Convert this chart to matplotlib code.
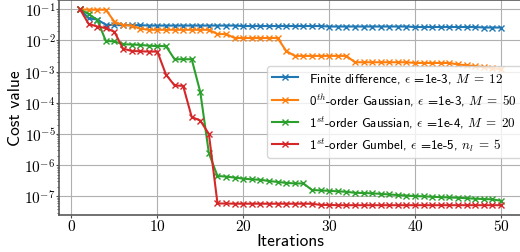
import math

import matplotlib

matplotlib.use("Agg")
import matplotlib.pyplot as plt
from matplotlib.ticker import FuncFormatter, NullFormatter

plt.rcParams["mathtext.fontset"] = "cm"
plt.rcParams["font.family"] = ["cmss10", "DejaVu Sans"]
plt.rcParams["axes.unicode_minus"] = False

iterations = list(range(1, 51))

finite_diff = [0.1, 0.051, 0.047, 0.032, 0.031, 0.031, 0.031, 0.031, 0.030, 0.030,
               0.030, 0.030, 0.030, 0.030, 0.030, 0.030, 0.030, 0.030, 0.030, 0.029,
               0.029, 0.029, 0.029, 0.029, 0.029, 0.029, 0.029, 0.029, 0.029, 0.028,
               0.028, 0.028, 0.028, 0.028, 0.028, 0.028, 0.028, 0.028, 0.028, 0.027,
               0.027, 0.027, 0.027, 0.027, 0.027, 0.027, 0.027, 0.026, 0.026, 0.026]

gauss0 = [0.1, 0.097, 0.097, 0.097, 0.040, 0.031, 0.030, 0.024, 0.022, 0.022,
          0.022, 0.022, 0.022, 0.022, 0.022, 0.022, 0.016, 0.016, 0.012, 0.012,
          0.012, 0.012, 0.012, 0.012, 0.0046, 0.0032, 0.0032, 0.0032, 0.0032, 0.0032,
          0.0032, 0.0032, 0.0020, 0.0020, 0.0020, 0.0020, 0.0020, 0.0020, 0.0020, 0.0019,
          0.0019, 0.0019, 0.0019, 0.0019, 0.0017, 0.0016, 0.0015, 0.0014, 0.0013, 0.0012]

gauss1 = [0.1, 0.07, 0.046, 0.0097, 0.0093, 0.0076, 0.0074, 0.0072, 0.0068, 0.0066,
          0.0066, 0.0025, 0.0025, 0.0025, 2.2e-4, 2.4e-6, 4.5e-7, 4.3e-7, 4.0e-7, 3.7e-7,
          3.5e-7, 3.4e-7, 3.1e-7, 2.9e-7, 2.7e-7, 2.6e-7, 2.6e-7, 1.6e-7, 1.55e-7, 1.5e-7,
          1.45e-7, 1.4e-7, 1.3e-7, 1.28e-7, 1.25e-7, 1.2e-7, 1.15e-7, 1.1e-7, 1.06e-7, 1.02e-7,
          1.0e-7, 9.7e-8, 9.4e-8, 9.2e-8, 9.0e-8, 8.7e-8, 8.4e-8, 8.2e-8, 8.0e-8, 7.2e-8]

gumbel1 = [0.1, 0.034, 0.028, 0.025, 0.019, 0.0055, 0.0046, 0.0045, 0.0044, 0.0044,
           8.1e-4, 3.6e-4, 3.5e-4, 3.5e-5, 2.7e-5, 1.0e-5, 5.9e-8, 5.9e-8, 5.8e-8, 5.8e-8,
           5.8e-8, 5.8e-8, 5.8e-8, 5.8e-8, 5.8e-8, 5.8e-8, 5.8e-8, 5.8e-8, 5.3e-8, 5.3e-8,
           5.2e-8, 5.2e-8, 5.2e-8, 5.2e-8, 5.2e-8, 5.2e-8, 5.2e-8, 5.2e-8, 5.2e-8, 5.2e-8,
           5.2e-8, 5.2e-8, 5.2e-8, 5.2e-8, 5.2e-8, 5.2e-8, 5.2e-8, 5.2e-8, 5.2e-8, 5.2e-8]

labels = [
    r"Finite difference, $\epsilon$ =1e-3, $M\;=\;12$",
    r"0$^{th}$-order Gaussian, $\epsilon$ =1e-3, $M\;=\;50$",
    r"1$^{st}$-order Gaussian, $\epsilon$ =1e-4, $M\;=\;20$",
    r"1$^{st}$-order Gumbel, $\epsilon$ =1e-5, $n_l\;=\;5$",
]
colors = ["#1f77b4", "#ff7f0e", "#2ca02c", "#d62728"]
y_ticks = [1e-7, 1e-6, 1e-5, 1e-4, 1e-3, 1e-2, 1e-1]


def log_label(value, pos):
    return r"$10^{%d}$" % round(math.log10(value))


def main():
    fig = plt.figure(figsize=(5.2, 2.53), dpi=100)
    ax = fig.add_axes([59 / 520, 37 / 253, 463 / 520, 215.5 / 253])

    for series, label, color in zip([finite_diff, gauss0, gauss1, gumbel1], labels, colors):
        ax.plot(iterations, series, color=color, marker="x", markersize=4,
                markeredgewidth=1, linewidth=1.5, label=label)

    ax.set_yscale("log")
    ax.set_yticks(y_ticks)
    ax.yaxis.set_major_formatter(FuncFormatter(log_label))
    ax.yaxis.set_minor_formatter(NullFormatter())
    ax.xaxis.set_major_formatter(FuncFormatter(lambda v, p: r"$%d$" % v))
    ax.tick_params(axis="both", labelsize=11, length=2.5, color="0.3")
    ax.tick_params(axis="x", pad=0)
    ax.tick_params(axis="y", pad=0)
    ax.tick_params(axis="y", which="minor", length=1.5, color="0.3")

    ax.grid(True, which="major", color="#b0b0b0", linewidth=0.8)
    for side in ["left", "bottom", "top"]:
        ax.spines[side].set_color("0.35")
        ax.spines[side].set_linewidth(1.2)

    ax.set_xlabel("Iterations", fontsize=12.5, labelpad=0)
    ax.set_ylabel("Cost value", fontsize=12.5, labelpad=1)

    ax.legend(loc="upper right", bbox_to_anchor=(1.0, 0.691), borderaxespad=0,
              fontsize=9.4, labelspacing=0.42, framealpha=0.8)

    fig.savefig("out.png", dpi=100)
    plt.close(fig)


if __name__ == "__main__":
    main()
